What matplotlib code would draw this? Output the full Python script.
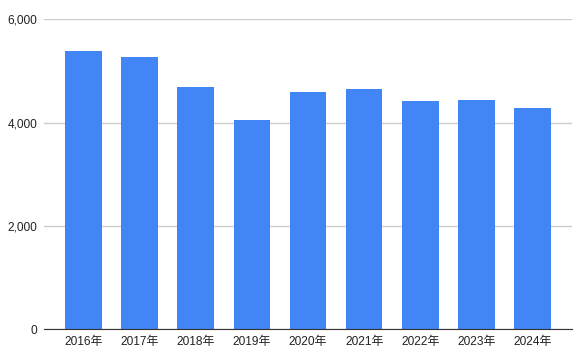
import matplotlib.pyplot as plt
from matplotlib.ticker import FuncFormatter

years = ['2016年', '2017年', '2018年', '2019年', '2020年', '2021年', '2022年', '2023年', '2024年']
values = [5388, 5272, 4689, 4049, 4592, 4650, 4417, 4437, 4282]
yticks = [0, 2000, 4000, 6000]

plt.rcParams['font.family'] = ['Liberation Sans', 'Noto Sans CJK JP', 'DejaVu Sans']

fig = plt.figure(figsize=(5.82, 3.53), dpi=100)
ax = fig.add_axes([44 / 582, 1 - 329 / 353, (572 - 44) / 582, (329 - 19.3) / 353])

x = range(len(years))
ax.bar(x, values, width=0.65, color='#4285F4', zorder=3)

ax.set_xlim(-0.7, len(years) - 0.3)
ax.set_ylim(0, 6000)
ax.set_yticks(yticks)
ax.yaxis.set_major_formatter(FuncFormatter(lambda v, p: f'{int(v):,}'))
ax.set_xticks(list(x))
ax.set_xticklabels(years)

ax.grid(axis='y', color='#cccccc', linewidth=1, zorder=0)
for s in ['top', 'right', 'left']:
    ax.spines[s].set_visible(False)
ax.spines['bottom'].set_color('#333333')
ax.spines['bottom'].set_zorder(4)
ax.tick_params(axis='both', length=0, labelsize=8.6, colors='#222222')
ax.tick_params(axis='y', pad=5)
ax.tick_params(axis='x', pad=5)

fig.savefig('out.png', dpi=100)
